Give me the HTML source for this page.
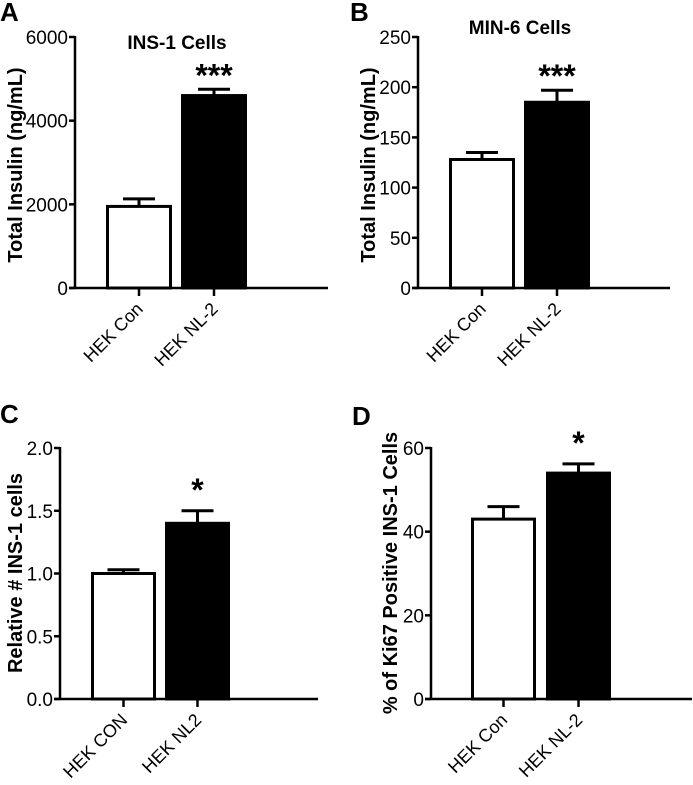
<!DOCTYPE html>
<html><head><meta charset="utf-8"><style>
body{margin:0;background:#fff;}
svg{display:block;font-family:"Liberation Sans",Arial,sans-serif;}
</style></head><body>
<svg id="fig" width="693" height="785" viewBox="0 0 693 785"></svg>
<script>
const categoriesA=["HEK Con","HEK NL-2"];
const valuesA=[1950,4600];
const errorsA=[180,150];
const ticksA=[0,2000,4000,6000];
const categoriesB=["HEK Con","HEK NL-2"];
const valuesB=[128,185];
const errorsB=[7,12];
const ticksB=[0,50,100,150,200,250];
const categoriesC=["HEK CON","HEK NL2"];
const valuesC=[1.0,1.4];
const errorsC=[0.03,0.1];
const ticksC=["0.0","0.5","1.0","1.5","2.0"];
const categoriesD=["HEK Con","HEK NL-2"];
const valuesD=[43,54];
const errorsD=[3,2.2];
const ticksD=[0,20,40,60];

const NS="http://www.w3.org/2000/svg";
const svg=document.getElementById('fig');
function mk(tag,attrs,parent,text){const e=document.createElementNS(NS,tag);for(const k in attrs)e.setAttribute(k,attrs[k]);if(text!==undefined)e.textContent=text;parent.appendChild(e);return e;}

function panel(o){
  const g=mk('g',{},svg);
  
  
  const ymax=parseFloat(o.ticks[o.ticks.length-1]);
  const y=v=>o.y0-(v/ymax)*(o.y0-o.ytop);
  const L=mk('text',{x:o.lx,y:o.ly,'font-size':26,'font-weight':'bold'},g,o.id);
  
  
  o.values.forEach((v,i)=>{
    const bx=o.bx[i];
    const top=y(v);
    const r=mk('rect',{x:bx+1.5,y:top,width:o.bw-3,height:o.y0-top,fill:i==0?'#fff':'#000',stroke:'#000','stroke-width':3},g);
    
    
    const cx=bx+o.bw/2, et=y(v+o.errors[i]);
    const eb=mk('path',{d:`M${cx},${top} V${et} M${cx-16},${et} H${cx+16}`,stroke:'#000','stroke-width':3,fill:'none'},g);
    
    
    const tk=mk('line',{x1:cx,y1:o.y0,x2:cx,y2:o.y0+8,stroke:'#000','stroke-width':2.5},g);
    
    
    const lab=mk('text',{x:cx+5,y:o.y0+22,'font-size':18,'text-anchor':'end',transform:`rotate(-45 ${cx+5} ${o.y0+22})`},g,o.cats[i]);
    
    
  });
  const ax=mk('path',{d:`M${o.ax},${o.ytop-1} V${o.y0} M${o.ax-6},${o.y0} H${o.xend}`,stroke:'#000','stroke-width':2.5,fill:'none'},g);
  
  
  o.ticks.forEach(t=>{
    const ty=y(parseFloat(t));
    const tl=mk('line',{x1:o.ax-6,y1:ty,x2:o.ax,y2:ty,stroke:'#000','stroke-width':2.5},g);
    
    
    const tt=mk('text',{x:o.ax-7,y:ty+7,'font-size':19,'text-anchor':'end'},g,String(t));
    
    
  });
  const yt=mk('text',{x:o.ytx,y:o.yty,'font-size':20,'font-weight':'bold','text-anchor':'middle',transform:`rotate(-90 ${o.ytx} ${o.yty})`},g,o.ytitle);
  
  
  if(o.title){const t=mk('text',{x:o.tx,y:o.ty,'font-size':19,'font-weight':'bold','text-anchor':'middle'},g,o.title);
    
    }
  const sx=o.bx[1]+o.bw/2;
  const st=mk('text',{x:sx,y:y(o.values[1]+o.errors[1])+o.sdy,'font-size':32,'font-weight':'bold','text-anchor':'middle'},g,o.stars);
  
  
}
panel({id:'A',lx:0,ly:21,ax:75,ytop:37,y0:288,xend:328,bx:[106,181],bw:66,values:valuesA,errors:errorsA,ticks:ticksA,cats:categoriesA,ytitle:'Total Insulin (ng/mL)',ytx:22,yty:165,title:'INS-1 Cells',tx:177,ty:49,stars:'***',sdy:-3});
panel({id:'B',lx:350,ly:21,ax:418,ytop:37,y0:288,xend:670,bx:[449,524],bw:66,values:valuesB,errors:errorsB,ticks:ticksB,cats:categoriesB,ytitle:'Total Insulin (ng/mL)',ytx:375,yty:165,title:'MIN-6 Cells',tx:520,ty:34,stars:'***',sdy:-3});
panel({id:'C',lx:0,ly:423,ax:60,ytop:448,y0:699,xend:318,bx:[91,165],bw:65,values:valuesC,errors:errorsC,ticks:ticksC,cats:categoriesC,ytitle:'Relative #  INS-1 cells',ytx:22,yty:573,stars:'*',sdy:-10});
panel({id:'D',lx:352,ly:425,ax:431,ytop:448,y0:699,xend:692,bx:[471,546],bw:65,values:valuesD,errors:errorsD,ticks:ticksD,cats:categoriesD,ytitle:'% of Ki67 Positive INS-1 Cells',ytx:397,yty:573,stars:'*',sdy:-10});
</script>
</body></html>
